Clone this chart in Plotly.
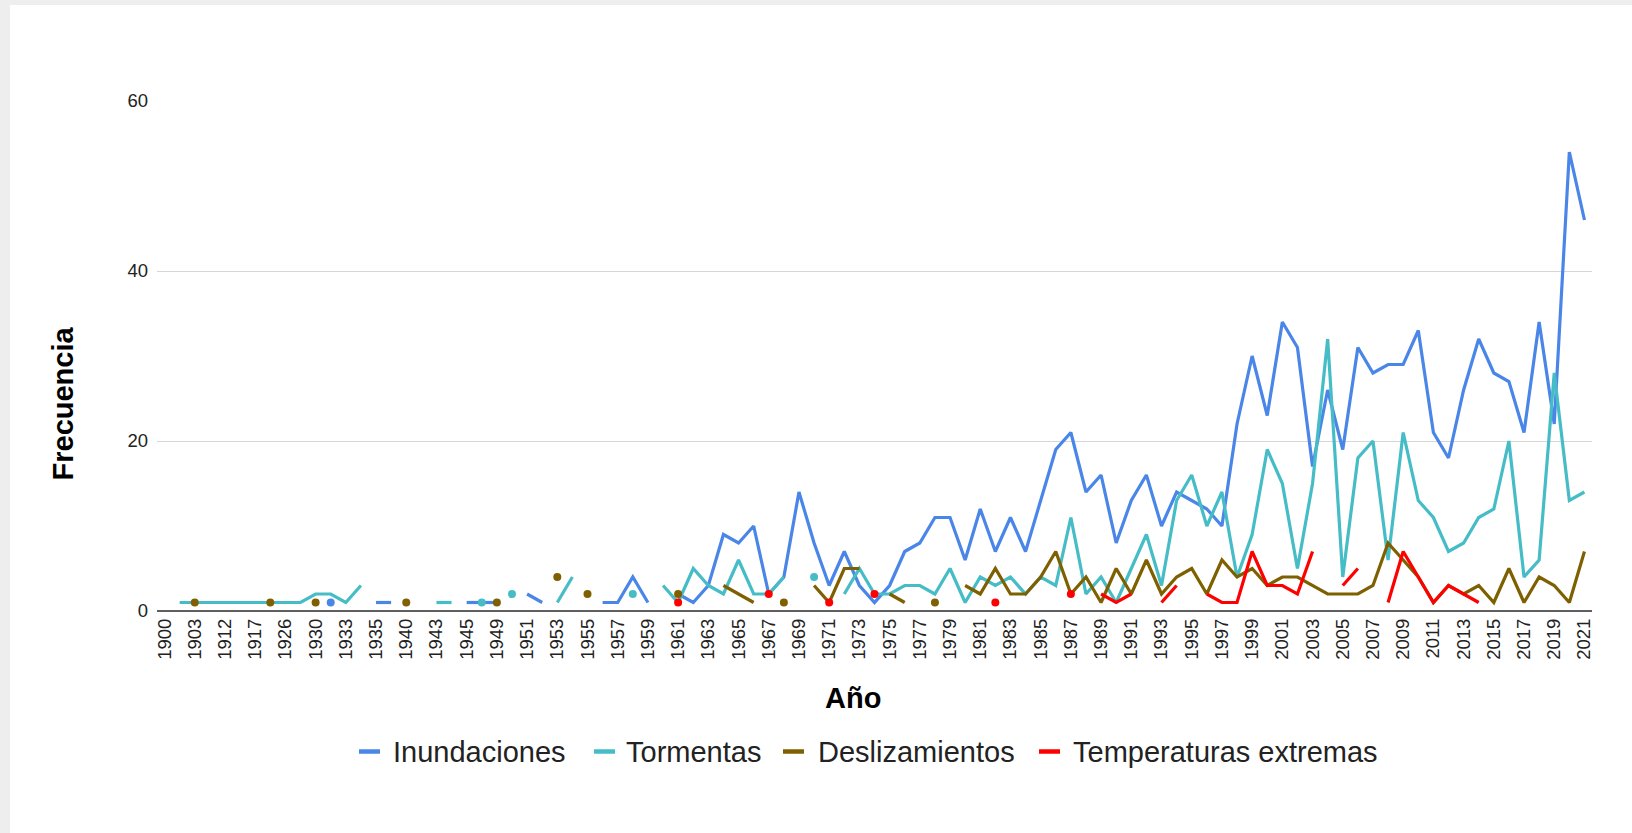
import plotly.graph_objects as go

# ---------------- data ----------------
years = ["1900", "1902", "1903", "1909", "1912", "1915", "1917", "1922", "1926", "1928",
         "1930", "1932", "1933", "1934", "1935", "1938", "1940", "1942", "1943", "1944",
         "1945", "1947", "1949", "1950", "1951", "1952"] + [str(y) for y in range(1953, 2022)]

N = None
# values for 1900..1952 block (26 categories) then 1953..2021 (69 categories)
inundaciones = [N, N, N, N, N, N, N, N, N, N,
                N, 1, N, N, 1, 1, N, N, N, N,
                1, 1, 1, N, 2, 1] + [
    N, N, N, 1, 1, 4, 1, N, 2, 1,        # 1953-1962
    3, 9, 8, 10, 2, 4, 14, 8, 3, 7,      # 1963-1972
    3, 1, 3, 7, 8, 11, 11, 6, 12, 7,     # 1973-1982
    11, 7, 13, 19, 21, 14, 16, 8, 13, 16,  # 1983-1992
    10, 14, 13, 12, 10, 22, 30, 23, 34, 31,  # 1993-2002
    17, 26, 19, 31, 28, 29, 29, 33, 21, 18,  # 2003-2012
    26, 32, 28, 27, 21, 34, 22, 54, 46]      # 2013-2021

tormentas = [N, 1, 1, 1, 1, 1, 1, 1, 1, 1,
             2, 2, 1, 3, N, N, N, N, 1, 1,
             N, 1, N, 2, N, N] + [
    1, 4, N, N, N, 2, N, 3, 1, 5,        # 1953-1962
    3, 2, 6, 2, 2, 4, N, 4, N, 2,        # 1963-1972
    5, 2, 2, 3, 3, 2, 5, 1, 4, 3,        # 1973-1982
    4, 2, 4, 3, 11, 2, 4, 1, 5, 9,       # 1983-1992
    3, 13, 16, 10, 14, 4, 9, 19, 15, 5,  # 1993-2002
    15, 32, 4, 18, 20, 6, 21, 13, 11, 7,  # 2003-2012
    8, 11, 12, 20, 4, 6, 28, 13, 14]      # 2013-2021

deslizamientos = [N, N, 1, N, N, N, N, 1, N, N,
                  1, N, N, N, N, N, 1, N, N, N,
                  N, N, 1, N, N, N] + [
    4, N, 2, N, N, N, N, N, 2, N,        # 1953-1962
    N, 3, 2, 1, N, 1, N, 3, 1, 5,        # 1963-1972
    5, N, 2, 1, N, 1, N, 3, 2, 5,        # 1973-1982
    2, 2, 4, 7, 2, 4, 1, 5, 2, 6,        # 1983-1992
    2, 4, 5, 2, 6, 4, 5, 3, 4, 4,        # 1993-2002
    3, 2, 2, 2, 3, 8, 6, 4, 1, 3,        # 2003-2012
    2, 3, 1, 5, 1, 4, 3, 1, 7]           # 2013-2021

temperaturas = [N] * 26 + [
    N, N, N, N, N, N, N, N, 1, N,        # 1953-1962
    N, N, N, N, 2, N, N, N, 1, N,        # 1963-1972
    N, 2, N, N, N, N, N, N, N, 1,        # 1973-1982
    N, N, N, N, 2, N, 2, 1, 2, N,        # 1983-1992
    1, 3, N, 2, 1, 1, 7, 3, 3, 2,        # 1993-2002
    7, N, 3, 5, N, 1, 7, 4, 1, 3,        # 2003-2012
    2, 1, N, N, N, N, N, N, N]           # 2013-2021

series_names = ["Inundaciones", "Tormentas", "Deslizamientos", "Temperaturas extremas"]
series_values = [inundaciones, tormentas, deslizamientos, temperaturas]
series_colors = ["#4a86e8", "#46bdc6", "#7f6000", "#ff0000"]

y_ticks = [0, 20, 40, 60]

# ---------------- figure ----------------
W, H = 1632, 833
ML, MR, MT, MB = 157, 40, 101, 222
PW, PH = W - ML - MR, H - MT - MB

px2x = lambda px: (px - ML) / PW
py2y = lambda py: (H - MB - py) / PH


def isolated_sizes(vals, size=8):
    out = []
    for i, v in enumerate(vals):
        prev_ = vals[i - 1] if i > 0 else None
        next_ = vals[i + 1] if i < len(vals) - 1 else None
        out.append(size if (v is not None and prev_ is None and next_ is None) else 0)
    return out


fig = go.Figure()
for name, vals, color in zip(series_names, series_values, series_colors):
    fig.add_trace(go.Scatter(
        x=years, y=vals, name=name, mode="lines+markers",
        line=dict(color=color, width=3.2),
        marker=dict(color=color, size=isolated_sizes(vals), opacity=1, line=dict(width=0)),
        connectgaps=False, showlegend=False,
    ))

font_family = "Liberation Sans, Arial, sans-serif"

shapes = [dict(type="rect", xref="paper", yref="paper",
               x0=px2x(10), x1=px2x(W + 5), y0=py2y(H + 5), y1=py2y(5),
               fillcolor="white", line=dict(width=0), layer="below")]
annotations = [
    dict(text="<b>Frecuencia</b>", xref="paper", yref="paper",
         x=px2x(62.5), y=py2y(404), textangle=-90, showarrow=False,
         xanchor="center", yanchor="middle",
         font=dict(size=29, color="#000000", family=font_family)),
    dict(text="<b>Año</b>", xref="paper", yref="paper",
         x=px2x(853), y=py2y(698), showarrow=False,
         xanchor="center", yanchor="middle",
         font=dict(size=29, color="#000000", family=font_family)),
]

# custom legend (short line sample + label)
legend_line_x = [359, 594, 783, 1039]
legend_text_x = [391, 624, 816, 1071]
legend_y = 751.5
for name, color, lx, tx in zip(series_names, series_colors, legend_line_x, legend_text_x):
    shapes.append(dict(type="line", xref="paper", yref="paper",
                       x0=px2x(lx), x1=px2x(lx + 21), y0=py2y(legend_y), y1=py2y(legend_y),
                       line=dict(color=color, width=4.5)))
    annotations.append(dict(text=name, xref="paper", yref="paper",
                            x=px2x(tx), y=py2y(legend_y), showarrow=False,
                            xanchor="left", yanchor="middle",
                            font=dict(size=29, color="#222222", family=font_family)))

fig.update_layout(
    width=W, height=H,
    margin=dict(l=ML, r=MR, t=MT, b=MB, autoexpand=False),
    paper_bgcolor="#eeeeee",
    plot_bgcolor="rgba(0,0,0,0)",
    font=dict(family=font_family, color="#222222"),
    showlegend=False,
    shapes=shapes,
    annotations=annotations,
    xaxis=dict(
        type="category", categoryorder="array", categoryarray=years,
        range=[-0.5, len(years) - 0.5],
        tickmode="array", tickvals=years[::2], ticktext=years[::2],
        tickangle=-90, tickfont=dict(size=18.5, color="#222222"),
        showgrid=False, showline=False, ticks="", ticklen=0,
        ticklabelstandoff=3,
        fixedrange=True,
    ),
    yaxis=dict(
        range=[0, 60], tickmode="array", tickvals=y_ticks,
        tickfont=dict(size=18.5, color="#222222"),
        showgrid=True, gridcolor="#d6d6d6", gridwidth=1,
        zeroline=True, zerolinecolor="#5f5f5f", zerolinewidth=2,
        showline=False, ticks="", ticklabelstandoff=8,
        fixedrange=True,
    ),
)

fig.write_html("out.html",
               config={"displayModeBar": False},
               post_script="document.body.style.margin='0';document.body.style.overflow='hidden';")
